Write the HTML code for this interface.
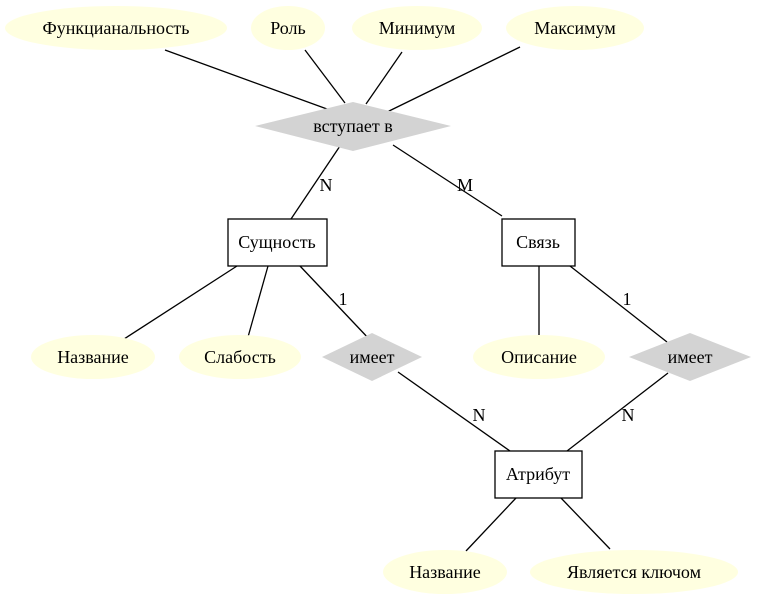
<!DOCTYPE html>
<html><head><meta charset="utf-8"><style>
html,body{margin:0;padding:0;background:#fff;}
svg{display:block;font-family:"Liberation Serif","DejaVu Serif",serif;}
text{font-size:18px;fill:#000;}
</style></head><body>
<svg width="759" height="601" viewBox="0 0 759 601">
<g stroke="#000" stroke-width="1.3">
<line x1="165" y1="50" x2="338" y2="113"/>
<line x1="305" y1="50" x2="345" y2="103"/>
<line x1="402" y1="52" x2="366" y2="104"/>
<line x1="520" y1="47" x2="385" y2="113"/>
<line x1="340" y1="146" x2="291" y2="219"/>
<line x1="393" y1="145" x2="502" y2="216"/>
<line x1="237" y1="266" x2="124" y2="339"/>
<line x1="268" y1="266" x2="248" y2="337"/>
<line x1="300" y1="266" x2="371" y2="341"/>
<line x1="539" y1="266" x2="539" y2="336"/>
<line x1="570" y1="266" x2="667" y2="342"/>
<line x1="398" y1="372" x2="510" y2="451"/>
<line x1="668" y1="373" x2="567" y2="451"/>
<line x1="516" y1="498" x2="466" y2="551"/>
<line x1="561" y1="498" x2="610" y2="549"/>
</g>
<g fill="#ffffe0">
<ellipse cx="116" cy="28" rx="111" ry="22"/>
<ellipse cx="288" cy="28" rx="37" ry="22"/>
<ellipse cx="417" cy="28" rx="65" ry="22"/>
<ellipse cx="575" cy="28" rx="69" ry="22"/>
<ellipse cx="93" cy="357" rx="62" ry="22"/>
<ellipse cx="240" cy="357" rx="61" ry="22"/>
<ellipse cx="539" cy="357" rx="66" ry="22"/>
<ellipse cx="445" cy="572" rx="62" ry="22"/>
<ellipse cx="634" cy="572" rx="104" ry="22"/>
</g>
<g fill="#d3d3d3">
<polygon points="255,126 353,102 451,126 353,151"/>
<polygon points="322,357 372,333 422,357 372,381"/>
<polygon points="629,357 690,333 751,357 690,381"/>
</g>
<g fill="#fff" stroke="#000" stroke-width="1.3">
<rect x="228" y="219" width="99" height="47"/>
<rect x="502" y="219" width="73" height="47"/>
<rect x="495" y="451" width="87" height="47"/>
</g>
<g text-anchor="middle">
<text x="116" y="34">Функцианальность</text>
<text x="288" y="34">Роль</text>
<text x="417" y="34">Минимум</text>
<text x="575" y="34">Максимум</text>
<text x="353" y="132">вступает в</text>
<text x="277" y="248">Сущность</text>
<text x="538" y="248">Связь</text>
<text x="93" y="363">Название</text>
<text x="240" y="363">Слабость</text>
<text x="372" y="363">имеет</text>
<text x="539" y="363">Описание</text>
<text x="690" y="363">имеет</text>
<text x="538" y="480">Атрибут</text>
<text x="445" y="578">Название</text>
<text x="634" y="578">Является ключом</text>
<text x="326" y="191">N</text>
<text x="465" y="191">M</text>
<text x="343" y="305">1</text>
<text x="627" y="305">1</text>
<text x="479" y="421">N</text>
<text x="628" y="421">N</text>
</g>
</svg>
</body></html>
